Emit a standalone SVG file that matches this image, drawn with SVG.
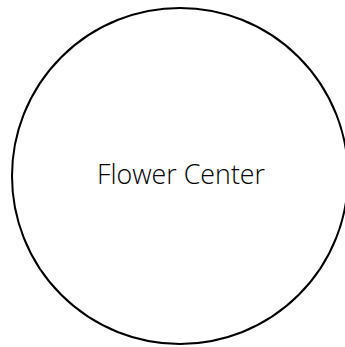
<svg xmlns="http://www.w3.org/2000/svg" width="345" height="347" viewBox="0 0 345 347">
  <style>
    .node-shape { fill: #ffffff; stroke: #000000; stroke-width: 2; }
    .node-label { font-family: "Open Sans", "Noto Sans", sans-serif; font-weight: 300; font-size: 26.8px; fill: #000000; text-anchor: middle; }
  </style>
  <rect width="345" height="347" fill="#ffffff"/>
  <g id="connectors"></g>
  <g id="flower-center">
    <circle class="node-shape" cx="180" cy="176" r="168"/>
    <text class="node-label" x="181" y="184">Flower Center</text>
  </g>
</svg>
